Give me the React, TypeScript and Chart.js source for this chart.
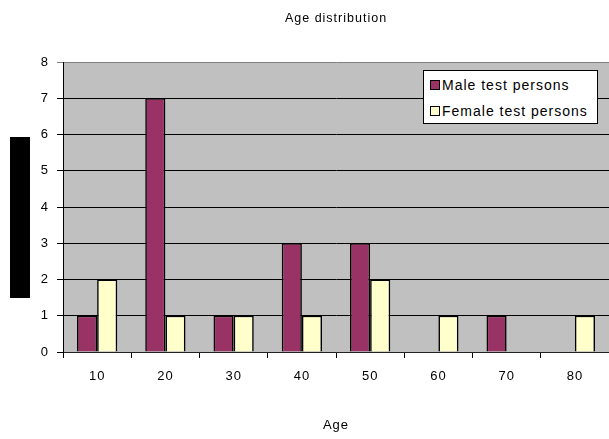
import React, { useEffect, useRef } from "react";
import { Chart, registerables } from "chart.js";

Chart.register(...registerables);

const categories = ["10", "20", "30", "40", "50", "60", "70", "80"];
const maleValues = [1, 7, 1, 3, 3, 0, 1, 0];
const femaleValues = [2, 1, 1, 1, 2, 1, 0, 1];
const seriesNames = ["Male test persons", "Female test persons"];
const seriesColors = ["#993366", "#FFFFCC"];
const chartTitle = "Age distribution";
const xTitle = "Age";
const yTitle = "Number of persons";

const FONT = "'Liberation Sans', Arial, sans-serif";

const spacing = (chart: any) => {
  if (chart.ctx) chart.ctx.letterSpacing = "1px";
};

const bgPlugin = {
  id: "plotBg",
  beforeUpdate: spacing,
  beforeLayout: spacing,
  beforeDraw(chart: any) {
    spacing(chart);
    const { ctx, chartArea } = chart;
    ctx.save();
    ctx.fillStyle = "#c0c0c0";
    ctx.fillRect(chartArea.left, chartArea.top, chartArea.right - chartArea.left, chartArea.bottom - chartArea.top);
    // black box behind y axis title
    ctx.fillStyle = "#000";
    ctx.fillRect(chartArea.left - 53, chartArea.top + 75, 20, 161);
    ctx.restore();
  },
};

export default function App() {
  const ref = useRef<HTMLCanvasElement>(null);
  useEffect(() => {
    document.body.style.margin = "0";
    const chart = new Chart(ref.current!, {
      type: "bar",
      data: {
        labels: categories,
        datasets: [
          {
            label: seriesNames[0],
            data: maleValues,
            backgroundColor: seriesColors[0],
            borderColor: "#000",
            borderWidth: 1.6,
            categoryPercentage: 0.59,
            barPercentage: 1,
          },
          {
            label: seriesNames[1],
            data: femaleValues,
            backgroundColor: seriesColors[1],
            borderColor: "#000",
            borderWidth: 1.6,
            categoryPercentage: 0.59,
            barPercentage: 1,
          },
        ],
      },
      plugins: [bgPlugin],
      options: {
        animation: false,
        responsive: false,
        layout: { padding: { left: 0, right: 0, top: 0, bottom: 0 } },
        plugins: {
          legend: { display: false },
          tooltip: { enabled: false },
          title: {
            display: true,
            fullSize: false,
            text: chartTitle,
            color: "#000",
            font: { family: FONT, size: 12.5, weight: "normal" },
            padding: { top: 11, bottom: 36 },
          },
        },
        scales: {
          x: {
            offset: true,
            afterFit: (s: any) => {
              s.height = 87;
            },
            grid: {
              offset: true,
              drawOnChartArea: false,
              drawTicks: true,
              tickLength: 6,
              color: "#000",
            },
            border: { display: true, color: "#222", width: 1 },
            ticks: {
              color: "#000",
              font: { family: FONT, size: 13 },
              padding: 11,
            },
            title: {
              display: true,
              text: xTitle,
              color: "#000",
              font: { family: FONT, size: 13 },
              padding: { top: 0, bottom: 6 },
            },
          },
          y: {
            min: 0,
            max: 8,
            afterFit: (s: any) => {
              s.width = 63;
            },
            grid: {
              color: (c: any) => (c.tick && c.tick.value === 8 ? "#808080" : "#000"),
              tickLength: 6,
              lineWidth: 1,
            },
            border: { display: true, color: "#000", width: 1 },
            ticks: {
              stepSize: 1,
              color: "#000",
              font: { family: FONT, size: 13 },
              padding: 8,
            },
            title: {
              display: true,
              text: yTitle,
              color: "#000",
              font: { family: FONT, size: 12 },
              padding: { top: 13, bottom: 0 },
            },
          },
        },
      },
    } as any);
    return () => chart.destroy();
  }, []);

  return (
    <div style={{ position: "relative", width: 609, height: 439 }}>
      <canvas ref={ref} width={609} height={439} style={{ display: "block" }} />
      <div
        style={{
          position: "absolute",
          left: 423,
          top: 70,
          width: 175,
          height: 54,
          background: "#fff",
          border: "1px solid #000",
          fontFamily: FONT,
          fontSize: 14,
          letterSpacing: "1px",
          color: "#000",
          boxSizing: "border-box",
          padding: "1px 0 0 6px",
        }}
      >
        {seriesNames.map((n, i) => (
          <div key={n} style={{ display: "flex", alignItems: "center", height: 26 }}>
            <span
              style={{
                display: "inline-block",
                width: 8,
                height: 8,
                background: seriesColors[i],
                border: "1.5px solid #000",
                marginRight: 2,
              }}
            />
            <span>{n}</span>
          </div>
        ))}
      </div>
    </div>
  );
}
